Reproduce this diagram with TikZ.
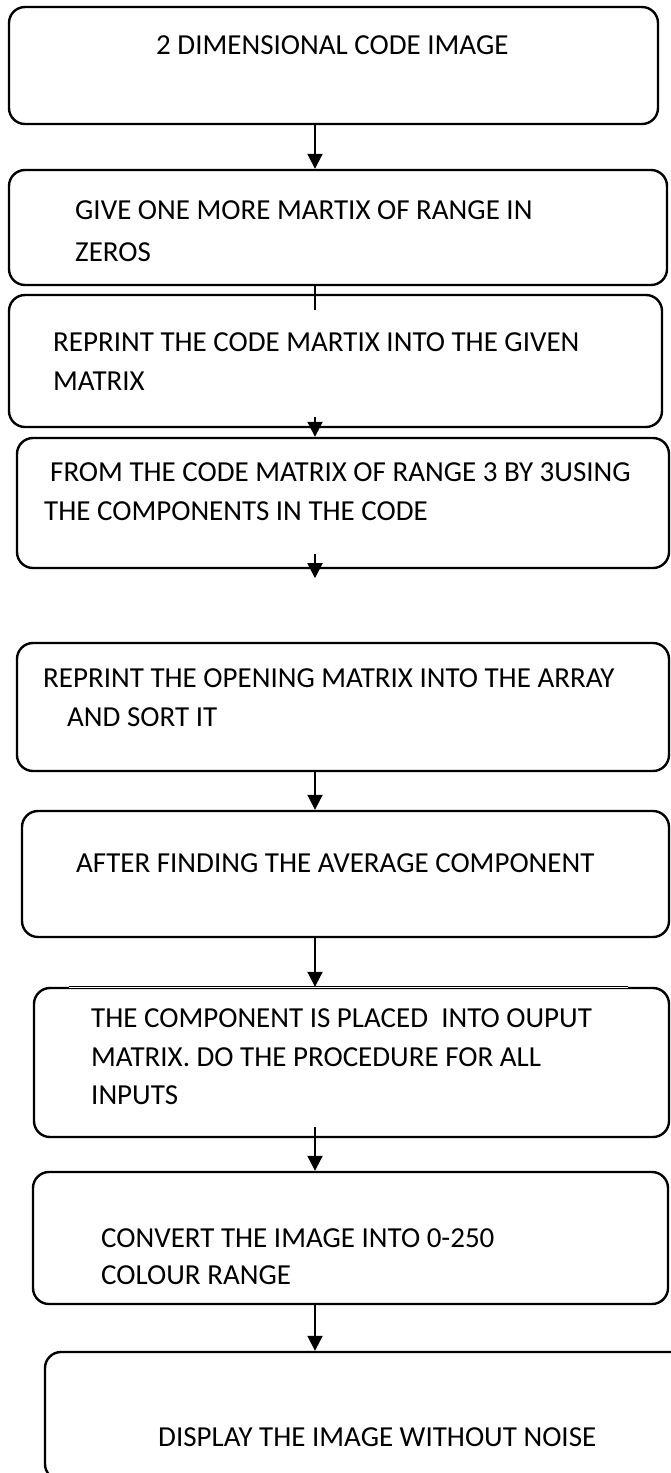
\documentclass[tikz,border=0pt]{standalone}
\usepackage{fontspec}
\setmainfont{Carlito}
\usetikzlibrary{arrows.meta,calc}

\begin{document}
\begin{tikzpicture}[x=1pt, y=-1pt,
    box/.style={draw, line width=2.4pt, rounded corners=16pt, inner sep=0pt},
    txt/.style={anchor=north west, inner sep=0pt, align=left, font=\fontsize{29}{38.5}\selectfont},
    arr/.style={line width=2pt, -{Triangle[width=15pt,length=15pt]}}]
    \useasboundingbox (0,0) rectangle (670,1473);

    % Cajas
    \node[box, minimum width=649pt, minimum height=117pt] (b1) at (333.5,65.5) {};
    \node[box, minimum width=658pt, minimum height=115pt] (b2) at (338,227.5) {};
    \node[box, minimum width=653pt, minimum height=132pt] (b3) at (335.5,361) {};
    \node[box, minimum width=652pt, minimum height=130pt] (b4) at (343,503) {};
    \node[box, minimum width=652pt, minimum height=128pt] (b5) at (343,707) {};
    \node[box, minimum width=647pt, minimum height=126pt] (b6) at (345.5,874) {};
    \node[box, minimum width=635pt, minimum height=149pt] (b7) at (351.5,1062.5) {};
    \node[box, minimum width=635pt, minimum height=132pt] (b8) at (350.5,1238) {};
    \node[box, minimum width=645pt, minimum height=128pt] (b9) at (367.5,1416) {};

    % Borde fino arriba de la caja 7
    \draw[white, line width=2.8pt] ($(b7.north west)+(36,0)$) -- ($(b7.north east)+(-42,0)$);
    \draw[line width=0.8pt] ($(b7.north west)+(36,0)$) -- ($(b7.north east)+(-42,0)$);

    % Textos
    \node[txt] (t1) at (156,35.7) {2 DIMENSIONAL CODE IMAGE};
    \node[txt, font=\fontsize{29}{42}\selectfont] (t2) at (75,200.7) {GIVE ONE MORE MARTIX OF RANGE IN\\ZEROS};
    \node[txt] (t3) at (53,332.7) {REPRINT THE CODE MARTIX INTO THE GIVEN\\MATRIX};
    \node[txt] (t4) at (44,462.7) {\hspace*{6pt}FROM THE CODE MATRIX OF RANGE 3 BY 3USING\\THE COMPONENTS IN THE CODE};
    \node[txt] (t5) at (43,668.7) {REPRINT THE OPENING MATRIX INTO THE ARRAY\\\hspace*{24pt}AND SORT IT};
    \node[txt] (t6) at (76,853.7) {AFTER FINDING THE AVERAGE COMPONENT};
    \node[txt] (t7) at (91,1008.7) {THE COMPONENT IS PLACED\ \ INTO OUPUT\\MATRIX. DO THE PROCEDURE FOR ALL\\INPUTS};
    \node[txt, font=\fontsize{29}{37}\selectfont] (t8) at (101,1228.7) {CONVERT THE IMAGE INTO 0-250\\COLOUR RANGE};
    \node[txt] (t9) at (158,1427.7) {DISPLAY THE IMAGE WITHOUT NOISE};

    % Flechas
    \coordinate (ax) at (315,0);
    \draw[arr] (b1.south -| ax) -- (b2.north -| ax);
    \draw[line width=2pt] (b2.south -| ax) -- ($(b3.north -| ax)+(0,16)$);
    \draw[arr] ($(b3.south -| ax)+(0,-11)$) -- (b4.north -| ax);
    \draw[arr] ($(b4.south -| ax)+(0,-15)$) -- ($(b4.south -| ax)+(0,9)$);
    \draw[arr] (b5.south -| ax) -- (b6.north -| ax);
    \draw[arr] (b6.south -| ax) -- (b7.north -| ax);
    \draw[arr] ($(b7.south -| ax)+(0,-11)$) -- (b8.north -| ax);
    \draw[arr] (b8.south -| ax) -- (b9.north -| ax);
\end{tikzpicture}
\end{document}
